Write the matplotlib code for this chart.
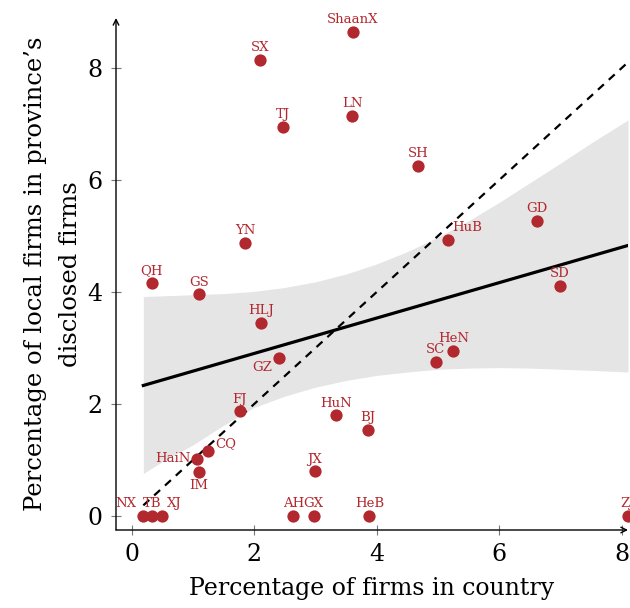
import numpy as np
import matplotlib
matplotlib.use('Agg')
import matplotlib.pyplot as plt

# province abbreviations and their shares (%)
provinces = ['ShaanX', 'SX', 'TJ', 'LN', 'SH', 'YN', 'HuB', 'GD', 'QH', 'GS',
             'HLJ', 'SD', 'GZ', 'HeN', 'SC', 'FJ', 'HuN', 'BJ', 'CQ', 'HaiN',
             'IM', 'JX', 'NX', 'TB', 'XJ', 'AH', 'GX', 'HeB', 'ZJ']
pct_country = [3.61, 2.10, 2.47, 3.60, 4.67, 1.85, 5.16, 6.61, 0.33, 1.10,
               2.11, 6.99, 2.41, 5.25, 4.96, 1.76, 3.34, 3.85, 1.25, 1.07,
               1.10, 2.99, 0.19, 0.33, 0.49, 2.64, 2.97, 3.88, 8.10]
pct_local = [8.64, 8.14, 6.95, 7.14, 6.25, 4.88, 4.93, 5.27, 4.16, 3.96,
             3.45, 4.11, 2.82, 2.95, 2.75, 1.87, 1.80, 1.54, 1.16, 1.02,
             0.79, 0.80, 0.0, 0.0, 0.0, 0.0, 0.0, 0.0, 0.0]

# fitted line and its confidence band
fit_intercept = 2.27
fit_slope = 0.316
band_x = [0.19, 0.5, 1.0, 1.5, 2.0, 2.5, 3.0, 3.5, 4.0, 4.5, 5.0, 5.5,
          6.0, 6.5, 7.0, 7.5, 8.1]
band_lo = [0.76, 0.97, 1.27, 1.62, 1.94, 2.14, 2.30, 2.42, 2.51, 2.57, 2.62,
           2.64, 2.65, 2.64, 2.62, 2.60, 2.57]
band_hi = [3.92, 3.93, 3.95, 3.97, 4.01, 4.08, 4.18, 4.32, 4.50, 4.72, 4.98,
           5.27, 5.60, 5.95, 6.30, 6.66, 7.07]

xticks = [0, 2, 4, 6, 8]
yticks = [0, 2, 4, 6, 8]

# label placement: (dx, dy) in points, ha
label_pos = {
    'HuB': (3, 9, 'left'), 'GZ': (-5, -7, 'right'), 'CQ': (5, 6, 'left'),
    'HaiN': (-5, 0, 'right'), 'IM': (0, -10, 'center'), 'NX': (-5, 9, 'right'),
    'XJ': (4, 9, 'left'),
}

red = '#b2282f'
plt.rcParams['font.family'] = ['DejaVu Serif']

fig = plt.figure(figsize=(6.3, 6.08), dpi=100)
ax = fig.add_axes([116 / 630, 78 / 608, 512 / 630, 512 / 608])

ax.fill_between(band_x, band_lo, band_hi, color='#e5e5e5', lw=0, zorder=1)
fx = np.array([band_x[0], band_x[-1]])
ax.plot(fx, fit_intercept + fit_slope * fx, color='black', lw=2.3, zorder=2)
ax.plot(fx, fx, color='black', lw=1.6, ls=(0, (3.6, 3)), zorder=2)

ax.scatter(pct_country, pct_local, s=78, color=red, zorder=3, clip_on=False, lw=0)

for name, x, y in zip(provinces, pct_country, pct_local):
    dx, dy, ha = label_pos.get(name, (0, 9, 'center'))
    va = 'center'
    if dy > 0:
        va = 'bottom'
        dy = dy - 5
    elif dy < 0:
        va = 'top'
        dy = dy + 5
    ax.annotate(name, (x, y), xytext=(dx, dy), textcoords='offset points',
                ha=ha, va=va, color=red, fontsize=9.5, zorder=4,
                annotation_clip=False)

ax.set_xlim(-0.256, 8.1)
ax.set_ylim(-0.25, 8.89)
ax.set_xticks(xticks)
ax.set_yticks(yticks)
ax.tick_params(direction='inout', length=7, width=0.8, color='#777777',
               labelsize=17, pad=6)

for s in ax.spines.values():
    s.set_visible(False)
ax.annotate('', xy=(1, 0), xytext=(0, 0), xycoords='axes fraction',
            arrowprops=dict(arrowstyle='->', lw=1.0, color='black',
                            shrinkA=0, shrinkB=0))
ax.annotate('', xy=(0, 1), xytext=(0, 0), xycoords='axes fraction',
            arrowprops=dict(arrowstyle='->', lw=1.0, color='black',
                            shrinkA=0, shrinkB=0))

ax.set_xlabel('Percentage of firms in country', fontsize=17, labelpad=8)
ax.set_ylabel('Percentage of local firms in province\u2019s\ndisclosed firms',
              fontsize=17.5, labelpad=4, linespacing=1.65)

fig.savefig('out.png', dpi=100)
